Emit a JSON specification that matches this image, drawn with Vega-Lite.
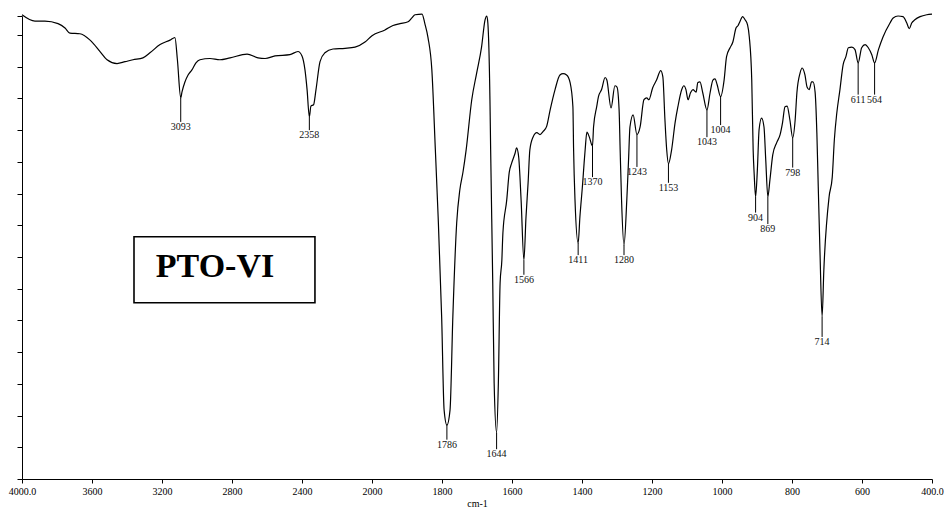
{
  "$schema": "https://vega.github.io/schema/vega-lite/v6.json",
  "width": 910,
  "height": 463,
  "autosize": {"type": "none"},
  "padding": {"left": 22, "top": 16, "right": 18, "bottom": 33},
  "background": "white",
  "config": {
    "view": {"stroke": null},
    "font": "Liberation Serif",
    "axis": {"domainColor": "black", "tickColor": "black", "labelColor": "black", "titleColor": "black", "grid": false}
  },
  "datasets": {
    "spectrum": [
      {"wn":4000,"T":73.2},{"wn":3926,"T":72.2},{"wn":3869,"T":72.2},{"wn":3794,"T":71.8},{"wn":3754,"T":71.1},{"wn":3726,"T":70.3},{"wn":3669,"T":70.2},{"wn":3611,"T":69.2},{"wn":3554,"T":67.4},{"wn":3514,"T":66.1},{"wn":3457,"T":65.5},{"wn":3411,"T":65.8},{"wn":3366,"T":66.1},{"wn":3309,"T":66.4},{"wn":3269,"T":67.2},{"wn":3211,"T":68.5},{"wn":3154,"T":69.2},{"wn":3126,"T":69.6},{"wn":3112,"T":66.1},{"wn":3093,"T":60.1},{"wn":3086,"T":61.0},{"wn":3069,"T":62.6},{"wn":3051,"T":63.7},{"wn":3029,"T":64.5},{"wn":3006,"T":65.6},{"wn":2983,"T":66.1},{"wn":2926,"T":66.3},{"wn":2869,"T":66.1},{"wn":2811,"T":66.4},{"wn":2714,"T":67.0},{"wn":2651,"T":66.4},{"wn":2611,"T":66.3},{"wn":2554,"T":66.7},{"wn":2469,"T":66.9},{"wn":2423,"T":67.4},{"wn":2400,"T":66.7},{"wn":2383,"T":64.5},{"wn":2371,"T":61.4},{"wn":2358,"T":57.1},{"wn":2349,"T":58.8},{"wn":2334,"T":59.0},{"wn":2320,"T":61.4},{"wn":2297,"T":65.8},{"wn":2269,"T":67.2},{"wn":2223,"T":67.8},{"wn":2154,"T":67.9},{"wn":2097,"T":68.1},{"wn":2040,"T":68.9},{"wn":2000,"T":69.9},
      {"wn":1963,"T":70.8},{"wn":1940,"T":71.5},{"wn":1920,"T":71.8},{"wn":1897,"T":72.1},{"wn":1886,"T":72.7},{"wn":1877,"T":73.2},{"wn":1857,"T":73.3},{"wn":1849,"T":71.8},{"wn":1840,"T":69.6},{"wn":1829,"T":64.5},{"wn":1819,"T":51.9},{"wn":1811,"T":41.3},{"wn":1801,"T":25.6},{"wn":1794,"T":10.9},{"wn":1786,"T":8.5},{"wn":1777,"T":10.9},{"wn":1769,"T":25.6},{"wn":1758,"T":40.4},{"wn":1749,"T":45.6},{"wn":1740,"T":48.4},{"wn":1731,"T":51.9},{"wn":1715,"T":59.8},{"wn":1701,"T":64.0},{"wn":1687,"T":68.1},{"wn":1677,"T":72.4},{"wn":1672,"T":73.0},{"wn":1669,"T":71.9},{"wn":1663,"T":59.8},{"wn":1661,"T":51.9},{"wn":1655,"T":30.9},{"wn":1651,"T":15.1},{"wn":1644,"T":7.3},{"wn":1639,"T":15.1},{"wn":1634,"T":30.9},{"wn":1629,"T":34.5},{"wn":1626,"T":38.8},{"wn":1615,"T":44.0},{"wn":1608,"T":48.3},{"wn":1601,"T":49.8},{"wn":1591,"T":51.4},{"wn":1587,"T":52.2},{"wn":1581,"T":50.8},{"wn":1574,"T":44.0},{"wn":1566,"T":34.5},{"wn":1560,"T":41.3},{"wn":1554,"T":46.7},{"wn":1549,"T":51.9},{"wn":1540,"T":53.9},{"wn":1529,"T":54.6},{"wn":1520,"T":54.3},{"wn":1511,"T":54.8},{"wn":1501,"T":55.6},{"wn":1491,"T":58.2},{"wn":1477,"T":61.4},{"wn":1463,"T":63.7},{"wn":1454,"T":63.9},{"wn":1444,"T":63.7},{"wn":1434,"T":62.5},{"wn":1426,"T":58.7},{"wn":1424,"T":51.9},{"wn":1420,"T":44.0},{"wn":1411,"T":37.2},{"wn":1406,"T":41.3},{"wn":1398,"T":46.7},{"wn":1394,"T":49.8},{"wn":1391,"T":51.9},{"wn":1386,"T":54.7},{"wn":1379,"T":53.9},{"wn":1370,"T":52.5},{"wn":1367,"T":55.5},{"wn":1358,"T":58.7},{"wn":1353,"T":60.3},{"wn":1344,"T":61.4},{"wn":1334,"T":63.3},{"wn":1329,"T":62.9},{"wn":1317,"T":58.5},{"wn":1306,"T":62.0},{"wn":1300,"T":61.8},{"wn":1294,"T":58.2},{"wn":1291,"T":51.9},{"wn":1287,"T":44.0},{"wn":1280,"T":36.9},{"wn":1272,"T":44.0},{"wn":1267,"T":50.3},{"wn":1263,"T":55.5},{"wn":1254,"T":57.4},{"wn":1243,"T":54.3},{"wn":1234,"T":55.5},{"wn":1223,"T":59.8},{"wn":1215,"T":60.1},{"wn":1209,"T":59.8},{"wn":1198,"T":61.7},{"wn":1187,"T":62.9},{"wn":1175,"T":64.4},{"wn":1169,"T":63.4},{"wn":1163,"T":56.6},{"wn":1158,"T":51.9},{"wn":1153,"T":49.7},{"wn":1144,"T":51.9},{"wn":1134,"T":56.2},{"wn":1126,"T":58.7},{"wn":1115,"T":61.4},{"wn":1109,"T":62.0},{"wn":1103,"T":61.4},{"wn":1097,"T":59.8},{"wn":1090,"T":60.9},{"wn":1083,"T":61.4},{"wn":1074,"T":61.0},{"wn":1069,"T":62.5},{"wn":1063,"T":62.6},{"wn":1055,"T":60.9},{"wn":1043,"T":58.2},{"wn":1034,"T":60.9},{"wn":1026,"T":62.9},{"wn":1020,"T":63.1},{"wn":1014,"T":62.2},{"wn":1004,"T":60.3},{"wn":994,"T":62.9},{"wn":987,"T":66.6},{"wn":977,"T":68.0},{"wn":969,"T":68.9},{"wn":960,"T":71.1},{"wn":954,"T":71.5},{"wn":949,"T":72.1},{"wn":941,"T":72.9},{"wn":934,"T":72.4},{"wn":927,"T":71.6},{"wn":922,"T":69.7},{"wn":915,"T":62.9},{"wn":911,"T":51.9},{"wn":908,"T":48.0},{"wn":904,"T":44.5},{"wn":899,"T":48.7},{"wn":894,"T":55.1},{"wn":887,"T":56.9},{"wn":880,"T":55.5},{"wn":875,"T":50.3},{"wn":869,"T":44.5},{"wn":863,"T":47.2},{"wn":855,"T":51.1},{"wn":844,"T":53.0},{"wn":834,"T":54.3},{"wn":827,"T":56.2},{"wn":820,"T":58.7},{"wn":814,"T":58.8},{"wn":806,"T":56.6},{"wn":798,"T":53.8},{"wn":791,"T":56.6},{"wn":786,"T":60.9},{"wn":777,"T":64.0},{"wn":771,"T":64.8},{"wn":763,"T":63.7},{"wn":757,"T":61.8},{"wn":751,"T":61.4},{"wn":744,"T":62.6},{"wn":740,"T":62.6},{"wn":734,"T":61.0},{"wn":729,"T":54.6},{"wn":725,"T":46.1},{"wn":720,"T":35.7},{"wn":714,"T":25.6},{"wn":709,"T":33.0},{"wn":694,"T":44.5},{"wn":685,"T":47.6},{"wn":679,"T":53.5},{"wn":672,"T":57.7},{"wn":663,"T":61.4},{"wn":654,"T":65.3},{"wn":646,"T":66.6},{"wn":639,"T":68.0},{"wn":629,"T":68.1},{"wn":620,"T":67.7},{"wn":611,"T":65.6},{"wn":601,"T":68.0},{"wn":591,"T":68.5},{"wn":582,"T":68.0},{"wn":572,"T":66.9},{"wn":564,"T":65.6},{"wn":553,"T":67.7},{"wn":540,"T":69.7},{"wn":520,"T":71.9},{"wn":511,"T":72.7},{"wn":497,"T":73.0},{"wn":483,"T":72.9},{"wn":472,"T":71.9},{"wn":465,"T":71.0},{"wn":458,"T":71.9},{"wn":449,"T":72.4},{"wn":434,"T":72.9},{"wn":415,"T":73.2},{"wn":400,"T":73.3}
    ],
    "peaks": [
      {"wn":3093,"T":60.1,"labelT":56.3},
      {"wn":2358,"T":57.1,"labelT":55.0},
      {"wn":1786,"T":8.5,"labelT":6.2},
      {"wn":1644,"T":7.3,"labelT":4.7},
      {"wn":1566,"T":34.5,"labelT":32.2},
      {"wn":1411,"T":37.2,"labelT":35.3},
      {"wn":1370,"T":52.5,"labelT":47.6},
      {"wn":1280,"T":36.9,"labelT":35.3},
      {"wn":1243,"T":54.3,"labelT":49.2},
      {"wn":1153,"T":49.7,"labelT":46.7},
      {"wn":1043,"T":58.2,"labelT":53.9},
      {"wn":1004,"T":60.3,"labelT":55.8},
      {"wn":904,"T":44.5,"labelT":42.0},
      {"wn":869,"T":44.5,"labelT":40.2},
      {"wn":798,"T":53.8,"labelT":49.1},
      {"wn":714,"T":25.6,"labelT":22.4},
      {"wn":611,"T":65.6,"labelT":60.6},
      {"wn":564,"T":65.6,"labelT":60.6}
    ],
    "panel": [
      {"name":"PTO-VI","wn":3360,"wn2":2326,"T":38.2,"T2":27.8,"wnMid":2897,"TMid":33.4}
    ]
  },
  "layer": [
    {
      "data": {"name": "spectrum"},
      "mark": {"type": "line", "color": "black", "strokeWidth": 1.2, "interpolate": "monotone"},
      "encoding": {
        "x": {
          "field": "wn", "type": "quantitative", "title": "cm-1",
          "scale": {"domain": [4000, 2000, 400], "range": [0, 350, 910], "nice": false, "zero": false},
          "axis": {
            "values": [4000, 3600, 3200, 2800, 2400, 2000, 1800, 1600, 1400, 1200, 1000, 800, 600, 400],
            "tickCount": 30,
            "labelExpr": "datum.value == 4000 ? '4000.0' : datum.value == 400 ? '400.0' : datum.label",
            "format": "d",
            "labelFont": "Liberation Serif", "labelFontSize": 10,
            "labelFlush": false, "labelOverlap": false, "labelBound": false,
            "labelPadding": 3, "tickSize": 4,
            "title": "cm-1", "titleFont": "Liberation Serif", "titleFontSize": 10,
            "titleFontWeight": "normal", "titlePadding": 2
          }
        },
        "y": {
          "field": "T", "type": "quantitative", "title": null,
          "scale": {"domain": [0, 73], "nice": false, "zero": false},
          "axis": {
            "values": [0, 5, 10, 15, 20, 25, 30, 35, 40, 45, 50, 55, 60, 65, 70, 73],
            "tickCount": 30,
            "labels": false, "labelOverlap": false, "title": null, "tickSize": 5
          }
        }
      }
    },
    {
      "data": {"name": "peaks"},
      "mark": {"type": "rule", "color": "black", "strokeWidth": 1},
      "encoding": {
        "x": {"field": "wn", "type": "quantitative", "title": "cm-1"},
        "y": {"field": "T", "type": "quantitative", "title": null},
        "y2": {"field": "labelT"}
      }
    },
    {
      "data": {"name": "peaks"},
      "mark": {"type": "text", "font": "Liberation Serif", "fontSize": 10, "color": "#111", "baseline": "top", "align": "center", "dy": 0},
      "encoding": {
        "x": {"field": "wn", "type": "quantitative", "title": "cm-1"},
        "y": {"field": "labelT", "type": "quantitative", "title": null},
        "text": {"field": "wn", "type": "quantitative", "format": "d"}
      }
    },
    {
      "data": {"name": "panel"},
      "mark": {"type": "rect", "fill": "white", "stroke": "black", "strokeWidth": 1.6},
      "encoding": {
        "x": {"field": "wn", "type": "quantitative", "title": "cm-1"},
        "x2": {"field": "wn2"},
        "y": {"field": "T", "type": "quantitative", "title": null},
        "y2": {"field": "T2"}
      }
    },
    {
      "data": {"name": "panel"},
      "mark": {"type": "text", "font": "Liberation Serif", "fontSize": 34, "fontWeight": "bold", "color": "black", "align": "center", "baseline": "middle"},
      "encoding": {
        "x": {"field": "wnMid", "type": "quantitative", "title": "cm-1"},
        "y": {"field": "TMid", "type": "quantitative", "title": null},
        "text": {"field": "name"}
      }
    }
  ]
}
